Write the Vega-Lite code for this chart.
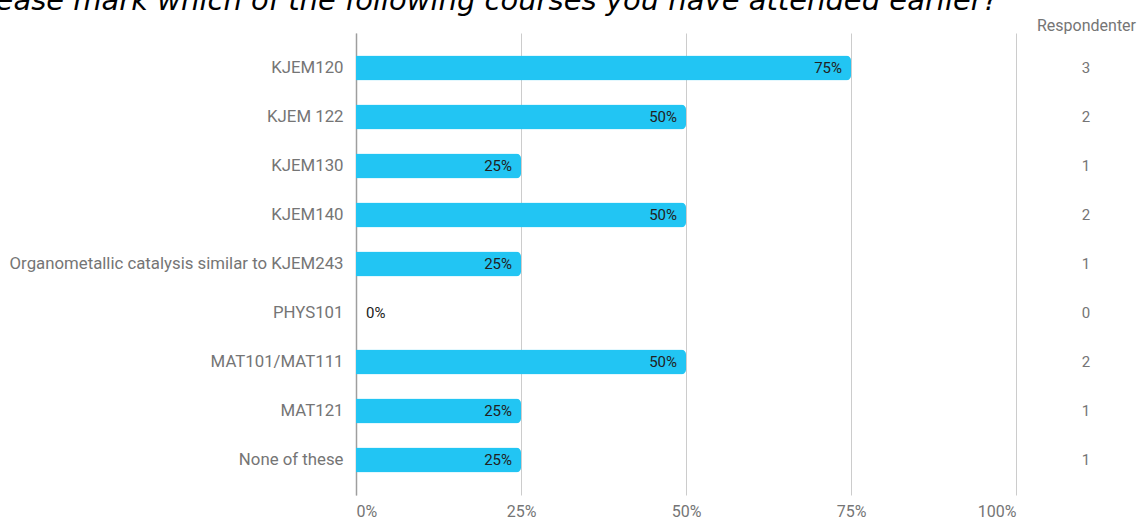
{
  "$schema": "https://vega.github.io/schema/vega-lite/v6.json",
  "autosize": "none",
  "width": 660,
  "height": 462,
  "padding": {"left": 356, "top": 33, "right": 122, "bottom": 24},
  "background": "white",
  "title": {
    "text": "Please mark which of the following courses you have attended earlier?",
    "anchor": "start",
    "frame": "group",
    "font": "DejaVu Sans",
    "fontStyle": "italic",
    "fontWeight": "normal",
    "fontSize": 29,
    "color": "#000000",
    "baseline": "alphabetic",
    "offset": 6,
    "dy": 28,
    "dx": -386
  },
  "config": {
    "view": {"stroke": null},
    "font": "Roboto"
  },
  "data": {
    "values": [
      {"course": "KJEM120", "pct": 0.75, "n": 3},
      {"course": "KJEM 122", "pct": 0.5, "n": 2},
      {"course": "KJEM130", "pct": 0.25, "n": 1},
      {"course": "KJEM140", "pct": 0.5, "n": 2},
      {"course": "Organometallic catalysis similar to KJEM243", "pct": 0.25, "n": 1},
      {"course": "PHYS101", "pct": 0, "n": 0},
      {"course": "MAT101/MAT111", "pct": 0.5, "n": 2},
      {"course": "MAT121", "pct": 0.25, "n": 1},
      {"course": "None of these", "pct": 0.25, "n": 1}
    ]
  },
  "layer": [
    {
      "encoding": {
        "y": {
          "field": "course",
          "type": "nominal",
          "sort": null,
          "scale": {"paddingInner": 0.49, "paddingOuter": 0.46},
          "axis": {
            "title": null,
            "ticks": false,
            "domain": true,
            "domainColor": "#9e9e9e",
            "domainWidth": 1.5,
            "labelFont": "Roboto",
            "labelFontSize": 16.8,
            "labelColor": "#757575",
            "labelPadding": 13,
            "labelLimit": 400
          }
        }
      },
      "layer": [
        {
          "mark": {"type": "bar", "color": "#22C5F3", "cornerRadiusEnd": 5},
          "encoding": {
            "x": {
              "field": "pct",
              "type": "quantitative",
              "scale": {"domain": [0, 1], "nice": false},
              "axis": {
                "title": null,
                "values": [0, 0.25, 0.5, 0.75, 1],
                "format": ".0%",
                "grid": true,
                "gridColor": "#cccccc",
                "gridWidth": 1,
                "ticks": false,
                "domain": false,
                "labelFont": "Roboto",
                "labelFontSize": 16,
                "labelColor": "#757575",
                "labelPadding": 8
              }
            }
          }
        },
        {
          "transform": [{"filter": "datum.pct > 0"}],
          "mark": {"type": "text", "align": "right", "dx": -9, "font": "Roboto", "fontSize": 15, "color": "#212121"},
          "encoding": {
            "x": {"field": "pct", "type": "quantitative"},
            "text": {"field": "pct", "type": "quantitative", "format": ".0%"}
          }
        },
        {
          "transform": [{"filter": "datum.pct == 0"}],
          "mark": {"type": "text", "align": "left", "dx": 10, "font": "Roboto", "fontSize": 15, "color": "#212121"},
          "encoding": {
            "x": {"field": "pct", "type": "quantitative"},
            "text": {"field": "pct", "type": "quantitative", "format": ".0%"}
          }
        }
      ]
    },
    {
      "mark": {"type": "text", "align": "center", "font": "Roboto", "fontSize": 15, "color": "#757575"},
      "encoding": {
        "x": {"datum": 1.106, "type": "quantitative"},
        "y": {
          "field": "course",
          "type": "nominal",
          "sort": null,
          "axis": {
            "orient": "right",
            "labels": false,
            "ticks": false,
            "domain": false,
            "grid": false,
            "title": "Respondenter",
            "titleFont": "Roboto",
            "titleFontSize": 16,
            "titleFontWeight": "normal",
            "titleColor": "#757575",
            "titleAngle": 0,
            "titleAlign": "center",
            "titleBaseline": "middle",
            "titleX": 70,
            "titleY": -8
          }
        },
        "text": {"field": "n", "type": "quantitative"}
      }
    }
  ],
  "resolve": {"axis": {"y": "independent"}}
}
